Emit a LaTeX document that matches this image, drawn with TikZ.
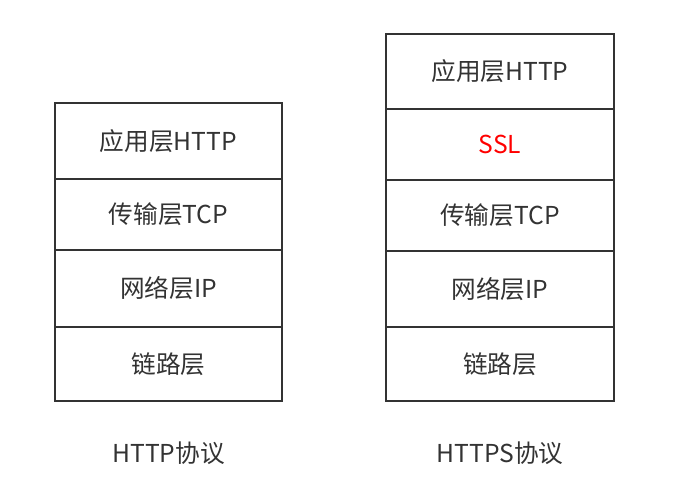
\documentclass[tikz,border=0pt]{standalone}
\usepackage{fontspec}
\setmainfont{Noto Sans CJK SC}
\definecolor{ink}{HTML}{333333}
\definecolor{sslred}{HTML}{FF0000}
\tikzset{
  layer/.style={text=ink,font=\fontsize{18.5pt}{22pt}\selectfont},
  caption/.style={text=ink,font=\fontsize{18.5pt}{22pt}\selectfont}
}
\begin{document}
\begin{tikzpicture}[x=0.75pt,y=-0.75pt]
\useasboundingbox (0,0) rectangle (694,492);
% HTTP stack
\draw[ink,line width=1.5pt] (55,103) rectangle (282,401);
\draw[ink,line width=1.5pt] (55,179) -- (282,179);
\draw[ink,line width=1.5pt] (55,250) -- (282,250);
\draw[ink,line width=1.5pt] (55,327) -- (282,327);
\node[layer] (happ) at (168.5,141) {应用层HTTP};
\node[layer] (htcp) at (168.5,214.5) {传输层TCP};
\node[layer] (hip) at (168.5,288.5) {网络层IP};
\node[layer] (hlink) at (168.5,364) {链路层};
\node[caption] (hcap) at (168.5,453) {HTTP协议};

% HTTPS stack
\draw[ink,line width=1.5pt] (386,34) rectangle (614,401);
\draw[ink,line width=1.5pt] (386,109) -- (614,109);
\draw[ink,line width=1.5pt] (386,180) -- (614,180);
\draw[ink,line width=1.5pt] (386,251) -- (614,251);
\draw[ink,line width=1.5pt] (386,327) -- (614,327);
\node[layer] (sapp) at (500,71.5) {应用层HTTP};
\node[layer,text=sslred] (sssl) at (500,144.5) {SSL};
\node[layer] (stcp) at (500,215.5) {传输层TCP};
\node[layer] (sip) at (500,289) {网络层IP};
\node[layer] (slink) at (500,364) {链路层};
\node[caption] (scap) at (500,453) {HTTPS协议};
\end{tikzpicture}
\end{document}
